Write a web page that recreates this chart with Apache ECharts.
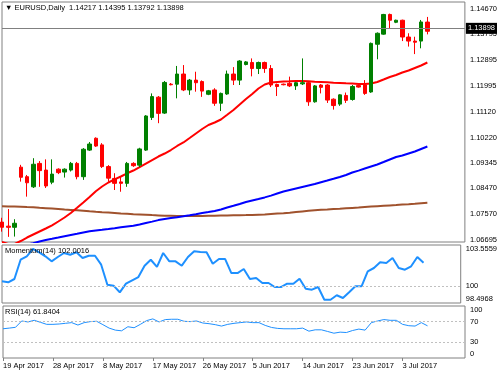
<!DOCTYPE html>
<html>
<head>
<meta charset="utf-8">
<script src="https://cdn.jsdelivr.net/npm/echarts@6/dist/echarts.min.js"></script>
<style>
html,body{margin:0;padding:0;background:#fff;}
#chart{width:500px;height:375px;}
</style>
</head>
<body>
<div id="chart"></div>
<script>
// ---- data ----
const dates = [
 '19 Apr 2017','20 Apr 2017','21 Apr 2017','23 Apr 2017','24 Apr 2017','25 Apr 2017','26 Apr 2017','27 Apr 2017','28 Apr 2017',
 '30 Apr 2017','1 May 2017','2 May 2017','3 May 2017','4 May 2017','5 May 2017','7 May 2017','8 May 2017',
 '9 May 2017','10 May 2017','11 May 2017','12 May 2017','14 May 2017','15 May 2017','16 May 2017','17 May 2017',
 '18 May 2017','19 May 2017','21 May 2017','22 May 2017','23 May 2017','24 May 2017','25 May 2017','26 May 2017',
 '28 May 2017','29 May 2017','30 May 2017','31 May 2017','1 Jun 2017','2 Jun 2017','4 Jun 2017','5 Jun 2017',
 '6 Jun 2017','7 Jun 2017','8 Jun 2017','9 Jun 2017','11 Jun 2017','12 Jun 2017','13 Jun 2017','14 Jun 2017',
 '15 Jun 2017','16 Jun 2017','18 Jun 2017','19 Jun 2017','20 Jun 2017','21 Jun 2017','22 Jun 2017','23 Jun 2017',
 '25 Jun 2017','26 Jun 2017','27 Jun 2017','28 Jun 2017','29 Jun 2017','30 Jun 2017','2 Jul 2017','3 Jul 2017',
 '4 Jul 2017','5 Jul 2017','6 Jul 2017','7 Jul 2017'
];
const padBars = 6;

const open = [1.0730,1.0716,1.0712,1.0920,1.0887,1.0852,1.0933,1.0910,1.0868,1.0913,1.0903,1.0910,1.0933,1.0887,1.0979,1.1020,1.0997,
 1.0922,1.0881,1.0869,1.0864,1.0933,1.0927,1.0979,1.1092,1.1162,1.1107,1.1207,1.1207,1.1242,1.1187,1.1221,1.1216,
 1.1172,1.1187,1.1141,1.1173,1.1242,1.1221,1.1275,1.1282,1.1261,1.1282,1.1261,1.1206,1.1207,1.1210,1.1201,1.1208,
 1.1212,1.1146,1.1204,1.1204,1.1155,1.1138,1.1168,1.1154,1.1202,1.1204,1.1180,1.1345,1.1380,1.1448,1.1421,1.1428,
 1.1370,1.1356,1.1356,1.14217];
const high = [1.0745,1.0775,1.0740,1.0928,1.0893,1.0951,1.0941,1.0947,1.0947,1.0916,1.0916,1.0938,1.0938,1.0986,1.1007,1.1023,1.1003,
 1.0927,1.0899,1.0887,1.0938,1.0937,1.0987,1.1100,1.1175,1.1166,1.1218,1.1211,1.1270,1.1273,1.1225,1.1250,1.1220,
 1.1187,1.1193,1.1178,1.1254,1.1266,1.1290,1.1287,1.1296,1.1285,1.1285,1.1273,1.1209,1.1209,1.1233,1.1215,1.1296,
 1.1215,1.1204,1.1207,1.1207,1.1158,1.1172,1.1178,1.1204,1.1205,1.1221,1.1351,1.1386,1.1450,1.1451,1.1430,1.1430,
 1.1383,1.1371,1.1429,1.14395];
const low = [1.0697,1.0679,1.0680,1.0870,1.0818,1.0848,1.0852,1.0848,1.0861,1.0896,1.0884,1.0905,1.0878,1.0876,1.0976,1.0990,1.0917,
 1.0870,1.0841,1.0835,1.0852,1.0921,1.0920,1.0976,1.1083,1.1072,1.1104,1.1203,1.1158,1.1183,1.1170,1.1181,1.1163,
 1.1169,1.1132,1.1114,1.1170,1.1204,1.1204,1.1272,1.1234,1.1242,1.1246,1.1197,1.1166,1.1203,1.1197,1.1187,1.1204,
 1.1132,1.1143,1.1175,1.1142,1.1119,1.1132,1.1142,1.1150,1.1195,1.1170,1.1177,1.1293,1.1378,1.1401,1.1418,1.1356,
 1.1337,1.1311,1.1331,1.13792];
const close = [1.0712,1.0712,1.0726,1.0885,1.0866,1.0930,1.0908,1.0855,1.0896,1.0901,1.0913,1.0933,1.0887,1.0982,1.1000,1.0993,1.0922,
 1.0882,1.0864,1.0864,1.0933,1.0925,1.0983,1.1097,1.1164,1.1106,1.1213,1.1205,1.1242,1.1187,1.1221,1.1212,1.1183,
 1.1184,1.1141,1.1175,1.1242,1.1221,1.1287,1.1284,1.1261,1.1282,1.1261,1.1204,1.1199,1.1205,1.1201,1.1212,1.1212,
 1.1146,1.1201,1.1196,1.1152,1.1133,1.1170,1.1151,1.1199,1.1197,1.1175,1.1348,1.1383,1.1448,1.1428,1.1428,1.1370,
 1.1356,1.1352,1.1422,1.13898];

const maRed = [1.06612,1.06543,1.06543,1.06646,1.06767,1.06871,1.06975,1.07079,1.07189,1.07321,1.07459,1.07615,1.07794,1.07978,1.08168,1.08369,1.08531,
 1.08669,1.08780,1.08877,1.08988,1.09084,1.09205,1.09326,1.09447,1.09568,1.09672,1.09793,1.09932,1.10053,1.10208,1.10364,1.10519,
 1.10658,1.10744,1.10848,1.11010,1.11176,1.11367,1.11557,1.11730,1.11920,1.12058,1.12127,1.12145,1.12162,1.12169,1.12179,1.12179,
 1.12169,1.12155,1.12145,1.12134,1.12120,1.12110,1.12100,1.12093,1.12075,1.12075,1.12093,1.12145,1.12231,1.12318,1.12387,1.12473,
 1.12542,1.12629,1.12715,1.12819];
const maBlue = [1.06439,1.06474,1.06491,1.06508,1.06525,1.06567,1.06629,1.06681,1.06723,1.06767,1.06812,1.06854,1.06895,1.06940,1.06982,1.07013,1.07034,
 1.07061,1.07089,1.07120,1.07148,1.07172,1.07220,1.07269,1.07317,1.07369,1.07407,1.07438,1.07469,1.07501,1.07535,1.07570,1.07615,
 1.07649,1.07684,1.07736,1.07805,1.07864,1.07926,1.07995,1.08047,1.08099,1.08154,1.08216,1.08289,1.08358,1.08410,1.08462,1.08514,
 1.08566,1.08617,1.08680,1.08738,1.08797,1.08860,1.08929,1.09015,1.09081,1.09153,1.09223,1.09292,1.09378,1.09465,1.09551,1.09603,
 1.09672,1.09741,1.09828,1.09914];
const maBrown = [1.07850,1.07843,1.07836,1.07829,1.07819,1.07812,1.07794,1.07781,1.07767,1.07753,1.07736,1.07722,1.07708,1.07691,1.07673,1.07656,1.07642,
 1.07629,1.07615,1.07597,1.07587,1.07573,1.07563,1.07553,1.07542,1.07532,1.07521,1.07518,1.07514,1.07511,1.07511,1.07511,1.07514,
 1.07518,1.07521,1.07525,1.07528,1.07535,1.07539,1.07542,1.07546,1.07556,1.07566,1.07580,1.07594,1.07604,1.07622,1.07646,1.07670,
 1.07691,1.07712,1.07729,1.07739,1.07753,1.07763,1.07777,1.07791,1.07805,1.07822,1.07836,1.07850,1.07864,1.07878,1.07891,1.07905,
 1.07919,1.07936,1.07954,1.07971];

const momentum = [100.39,100.30,100.59,102.27,102.57,103.21,102.92,102.57,102.13,102.51,102.86,102.71,102.92,102.42,102.62,102.62,101.84,
 100.09,100.01,99.43,100.18,100.48,100.76,101.75,102.27,101.64,102.86,102.13,102.13,101.75,102.51,103.01,102.94,
 102.92,101.92,102.33,102.33,101.11,101.11,101.46,100.59,100.68,100.24,100.24,99.89,99.89,100.18,100.18,100.62,
 99.74,99.66,99.89,98.78,98.78,99.17,98.93,99.43,99.95,99.95,101.26,101.55,102.05,101.99,102.42,101.55,
 101.40,101.70,102.51,102.0016];
const rsi = [56.2,57.5,59.0,71.2,69.3,72.5,68.6,64.7,64.7,65.4,66.7,68.0,63.4,68.0,70.0,70.6,64.1,
 57.5,53.6,52.3,60.1,58.2,64.7,71.9,75.2,69.3,73.9,74.5,74.5,70.6,70.0,71.2,67.3,
 66.0,64.1,61.4,64.7,66.7,68.0,69.3,68.0,68.0,62.7,58.8,56.9,56.2,56.2,56.2,57.5,
 51.6,54.2,54.2,51.0,47.7,49.7,49.0,52.9,55.6,53.6,68.0,71.2,73.9,72.5,72.5,64.7,
 62.1,61.4,68.0,61.8404];

const priceTicks = [1.06695,1.07570,1.08470,1.09345,1.10220,1.11120,1.11995,1.12895,1.13795,1.14670];
const priceMin = 1.06612, priceMax = 1.14911;
const momTicks = [98.4968,100,103.5559];
const momMin = 98.4968, momMax = 103.5559;
const rsiTicks = [0,30,70,100];
const rsiLevels = [30,70];
const xLabelIdx = [0,8,16,24,32,40,48,56,64];
const bid = 1.13898;

// ---- build ----
const cats = dates.concat(Array.from({length: padBars}, (_, k) => '~' + k));
const candles = dates.map((d, i) => [open[i], close[i], low[i], high[i]]);
const last = dates.length - 1;
const FONT = 'Liberation Sans, DejaVu Sans, sans-serif';
const FS = 7.5;
const frame = '#808080';

const grids = [
  {left: 2, right: 35, top: 2, height: 240},
  {left: 2, right: 35, top: 245, height: 58},
  {left: 2, right: 35, top: 306, height: 52}
].map(g => Object.assign(g, {show: true, borderColor: frame, borderWidth: 1, backgroundColor: '#fff', containLabel: false}));

function xAx(i, showLabels) {
  return {
    type: 'category', gridIndex: i, data: cats, boundaryGap: false,
    axisLine: {show: false},
    axisTick: {show: showLabels, interval: (idx) => xLabelIdx.includes(idx), length: 3, lineStyle: {color: frame}},
    axisLabel: {show: showLabels, interval: (idx) => xLabelIdx.includes(idx), align: 'left', margin: 4,
      color: '#000', fontSize: FS, fontFamily: FONT},
    splitLine: {show: false}
  };
}
const txt = {fontSize: FS, fontWeight: 'normal', color: '#000', fontFamily: FONT};

const option = {
  animation: false,
  backgroundColor: '#fff',
  textStyle: {fontFamily: FONT},
  title: [
    {text: '\u25BC EURUSD,Daily  ' + [open[last], high[last], low[last], close[last]].map(v => v.toFixed(5)).join(' '),
     left: 5, top: 4, padding: 0, textStyle: txt},
    {text: 'Momentum(14) ' + momentum[last].toFixed(4), left: 5, top: 247, padding: 0, textStyle: txt},
    {text: 'RSI(14) ' + rsi[last].toFixed(4), left: 5, top: 308, padding: 0, textStyle: txt}
  ],
  grid: grids,
  xAxis: [xAx(0, false), xAx(1, false), xAx(2, true)],
  yAxis: [
    {type: 'value', gridIndex: 0, position: 'right', min: priceMin, max: priceMax, scale: true,
     axisLine: {show: false}, axisTick: {show: false}, splitLine: {show: false},
     axisLabel: {customValues: priceTicks, formatter: v => v.toFixed(5), color: '#000', fontSize: FS, fontFamily: FONT, margin: 5}},
    {type: 'value', gridIndex: 1, position: 'right', min: momMin, max: momMax,
     axisLine: {show: false}, axisTick: {show: false}, splitLine: {show: false},
     axisLabel: {customValues: momTicks, color: '#000', fontSize: FS, fontFamily: FONT, margin: 5,
       verticalAlignMinLabel: 'bottom', verticalAlignMaxLabel: 'top'}},
    {type: 'value', gridIndex: 2, position: 'right', min: 0, max: 100,
     axisLine: {show: false}, axisTick: {show: false}, splitLine: {show: false},
     axisLabel: {customValues: rsiTicks, color: '#000', fontSize: FS, fontFamily: FONT, margin: 5,
       verticalAlignMinLabel: 'bottom', verticalAlignMaxLabel: 'top'}}
  ],
  series: [
    {type: 'line', xAxisIndex: 0, yAxisIndex: 0, data: maBrown, showSymbol: false, lineStyle: {color: '#a0522d', width: 2}, z: 1},
    {type: 'line', xAxisIndex: 0, yAxisIndex: 0, data: maBlue, showSymbol: false, lineStyle: {color: '#0000ff', width: 2}, z: 1},
    {type: 'line', xAxisIndex: 0, yAxisIndex: 0, data: maRed, showSymbol: false, lineStyle: {color: '#ff0000', width: 2}, z: 1},
    {type: 'candlestick', xAxisIndex: 0, yAxisIndex: 0, data: candles, barWidth: 4, z: 3,
     itemStyle: {color: '#008000', color0: '#ff0000', borderColor: '#008000', borderColor0: '#ff0000', borderWidth: 1},
     markLine: {silent: true, symbol: 'none', animation: false,
       lineStyle: {color: '#808080', width: 1, type: 'solid'},
       label: {show: true, position: 'end', distance: 1, formatter: bid.toFixed(5), color: '#fff', backgroundColor: '#000',
         padding: [2, 2, 1, 2], fontSize: FS, fontFamily: FONT},
       data: [{yAxis: bid}]}},
    {type: 'line', xAxisIndex: 1, yAxisIndex: 1, data: momentum, showSymbol: false, lineStyle: {color: '#1e90ff', width: 2},
     markLine: {silent: true, symbol: 'none', label: {show: false}, lineStyle: {color: '#c0c0c0', width: 1, type: [2, 2]}, data: [{yAxis: 100}]}},
    {type: 'line', xAxisIndex: 2, yAxisIndex: 2, data: rsi, showSymbol: false, lineStyle: {color: '#1e90ff', width: 1},
     markLine: {silent: true, symbol: 'none', label: {show: false}, lineStyle: {color: '#c0c0c0', width: 1, type: [2, 2]},
       data: rsiLevels.map(v => ({yAxis: v}))}}
  ]
};

const chart = echarts.init(document.getElementById('chart'), null, {renderer: 'canvas'});
chart.setOption(option);
</script>
</body>
</html>
